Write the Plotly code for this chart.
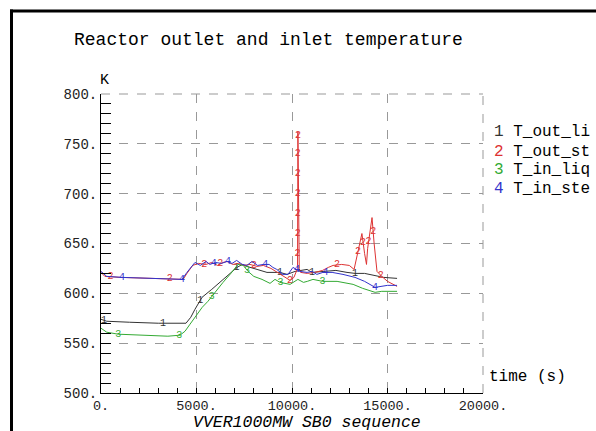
import numpy as np
import plotly.graph_objects as go

# ---------------- data ----------------
t1 = [0, 300, 1500, 3000, 4450, 4700, 4920, 5290, 5800, 6230, 6700, 7120, 7400, 7640, 8170, 8690,
      9370, 9740, 10160, 10790, 11050, 11830, 12300, 12880, 13300, 13800, 14300, 14800, 15500]
T_out_li = [574, 572, 571, 570, 570, 576, 584, 596, 604, 611, 619, 626, 629, 627, 624, 621,
            621, 619, 622, 624, 621, 622, 623, 621, 620, 620, 618, 616, 615]

t2 = [0, 200, 1000, 2500, 3600, 4300, 4500, 4800, 5100, 5500, 5800, 6100, 6400, 6600, 6900, 7200,
      7500, 7800, 8170, 8500, 8900, 9300, 9600, 9900, 10100, 10290, 10310, 10340, 10380, 10450,
      10800, 11200, 11600, 11900, 12150, 12600, 13000, 13250, 13450, 13660, 13800, 13900, 13960,
      14190, 14300, 14450, 14700, 15000, 15500]
T_out_st = [621, 617, 616, 615, 615, 614, 620, 628, 630, 629, 631, 628, 631, 632, 629, 630,
            628, 629, 627, 628, 625, 620, 616, 613, 616, 625, 762, 690, 625, 621,
            620, 621, 623, 626, 628, 629, 628, 624, 642, 660, 640, 629, 645,
            676, 650, 622, 617, 612, 607]

t3 = [0, 300, 900, 2000, 3500, 4140, 4400, 4660, 4920, 5300, 5600, 6000, 6390, 6800, 7170, 7450,
      7700, 8000, 8430, 8850, 9110, 9370, 9900, 10310, 10600, 10800, 11100, 11600, 12360, 13200,
      13700, 14350, 14700, 15500]
T_in_liq = [565, 561, 559, 558, 557, 558, 562, 569, 576, 586, 592, 602, 611, 620, 629, 628,
            622, 617, 614, 610, 614, 611, 609, 614, 611, 612, 614, 612, 612, 609,
            605, 601, 602, 602]

t4 = [0, 300, 1100, 2500, 4240, 4500, 4920, 5200, 5500, 5700, 6000, 6300, 6600, 6860, 7100, 7400,
      7640, 7900, 8200, 8500, 8800, 9000, 9200, 9530, 9790, 10050, 10420, 10790, 11050, 11300,
      11620, 12100, 12670, 13300, 13800, 14350, 14600, 15000, 15500]
T_in_ste = [622, 617, 616, 615, 614, 621, 631, 628, 632, 629, 631, 630, 632, 630, 633, 629,
            628, 632, 628, 629, 629, 626, 624, 619, 619, 626, 622, 621, 622, 619,
            621, 621, 619, 616, 612, 606, 607, 608, 608]

# times at which the curve-number labels are printed
lab1_t = [150, 3250, 5200, 7100, 9370, 11050, 13300]
lab2_t = [500, 3600, 5400, 6250, 8000, 9900, 10292.2, 10295.1, 10298.0, 10301.0, 10303.9,
          10306.8, 10309.4, 12350, 13450, 13720, 14010, 14250, 14650]
lab3_t = [900, 4100, 5800, 7650, 9400, 11600]
lab4_t = [1100, 4240, 5900, 6650, 8600, 10260, 11750, 14350]

names = ["T_out_li", "T_out_st", "T_in_liq", "T_in_ste"]
colors = ["#333333", "#dd3333", "#33aa33", "#3333cc"]

series = [(t1, T_out_li, lab1_t), (t2, T_out_st, lab2_t), (t3, T_in_liq, lab3_t), (t4, T_in_ste, lab4_t)]

MONO = "Liberation Mono, DejaVu Sans Mono, monospace"

fig = go.Figure()
for i, (tx, ty, lt) in enumerate(series):
    fig.add_trace(go.Scatter(x=tx, y=ty, mode="lines", line=dict(color=colors[i], width=1),
                             hoverinfo="skip", showlegend=False))
    ly = np.interp(lt, tx, ty)
    fig.add_trace(go.Scatter(x=lt, y=ly, mode="text", text=[str(i + 1)] * len(lt),
                             textposition="middle center",
                             textfont=dict(color=colors[i], size=10, family=MONO),
                             hoverinfo="skip", showlegend=False))

# pixel geometry helpers
L, R, T, B = 101, 483, 94, 393
W, H = 596, 431


def px(x):
    return (x - L) / (R - L)


def py(y):
    return (B - y) / (B - T)


grid = dict(showgrid=True, gridcolor="#999999", griddash="dash", gridwidth=1)

fig.update_layout(
    width=W, height=H,
    margin=dict(l=L, r=W - R, t=T, b=H - B, autoexpand=False),
    plot_bgcolor="white", paper_bgcolor="white",
    font=dict(family=MONO, color="black", size=14),
    xaxis=dict(range=[0, 20000], tickmode="linear", tick0=0, dtick=5000,
               tickformat="d", ticksuffix=".", ticks="inside", ticklen=5, tickcolor="black",
               showline=True, linecolor="black", linewidth=1, zeroline=False,
               minor=dict(ticks="inside", dtick=1000, ticklen=5, tickcolor="black", showgrid=False),
               tickfont=dict(size=13.5, family=MONO, color="#222222"), automargin=False, **grid),
    yaxis=dict(range=[500, 800], tickmode="linear", tick0=500, dtick=50,
               tickformat="d", ticksuffix=".", ticks="inside", ticklen=10, tickcolor="black",
               showline=True, linecolor="black", linewidth=1, zeroline=False,
               minor=dict(ticks="inside", dtick=10, ticklen=10, tickcolor="black", showgrid=False),
               tickfont=dict(size=14, family=MONO, color="#222222"), automargin=False, **grid),
)

# dashed frame on the top and right edges of the plot area
fig.add_shape(type="line", xref="paper", yref="paper", x0=0, x1=1, y0=1, y1=1,
              line=dict(color="#999999", width=1, dash="dash"), layer="below")
fig.add_shape(type="line", xref="paper", yref="paper", x0=1, x1=1, y0=0, y1=1,
              line=dict(color="#999999", width=1, dash="dash"), layer="below")

ann = [
    dict(text="Reactor outlet and inlet temperature", x=px(268.5), y=py(40), size=18),
    dict(text="K", x=px(104), y=py(80), size=15),
    dict(text="<i>VVER1000MW SB0 sequence</i>", x=px(306.5), y=py(422.5), size=16.5),
]
for a in ann:
    fig.add_annotation(text=a["text"], x=a["x"], y=a["y"], xref="paper", yref="paper",
                       xanchor="center", yanchor="middle", showarrow=False,
                       font=dict(size=a["size"], family=MONO, color="black"))

fig.add_annotation(text="time (s)", x=px(487), y=py(377), xref="paper", yref="paper",
                   xanchor="left", yanchor="middle", showarrow=False,
                   font=dict(size=16, family=MONO, color="black"))

leg_y = [132, 152, 170, 189]
for i, n in enumerate(names):
    fig.add_annotation(text=f"<span style='color:{colors[i]}'>{i + 1}</span> {n}",
                       x=px(492), y=py(leg_y[i]), xref="paper", yref="paper",
                       xanchor="left", yanchor="middle", showarrow=False,
                       font=dict(size=16, family=MONO, color="black"))

# outer frame (top and left edges visible)
fig.add_shape(type="line", xref="paper", yref="paper", x0=px(11.5), x1=px(11.5),
              y0=py(9.5), y1=py(445), line=dict(color="black", width=3))
fig.add_shape(type="line", xref="paper", yref="paper", x0=px(10), x1=px(610),
              y0=py(11), y1=py(11), line=dict(color="black", width=3))

fig.write_html("out.html")
